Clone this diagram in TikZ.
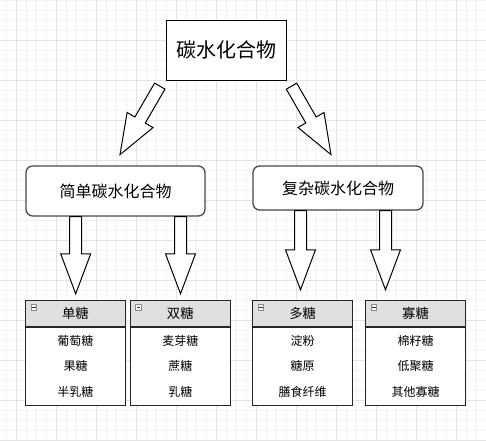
\documentclass[tikz,border=0pt]{standalone}
\usepackage{fontspec}
\setmainfont{Noto Sans CJK SC}
\usetikzlibrary{positioning, calc}

\definecolor{gridminor}{HTML}{F3F3F3}
\definecolor{gridmajor}{HTML}{E3E3E3}
\definecolor{headgray}{HTML}{E0E0E0}

\tikzset{
  carbbox/.style={draw, line width=0.75pt, fill=white, minimum width=90pt, minimum height=45pt, font=\fontsize{15}{18}\selectfont},
  kindbox/.style={draw=black!72, line width=1pt, rounded corners=5pt, fill=white, font=\fontsize{12}{14}\selectfont},
  sugarhead/.style={draw=black!85, line width=0.75pt, fill=headgray, minimum width=75pt, minimum height=19.5pt, inner sep=0pt, font=\fontsize{10}{12}\selectfont},
  sugarbody/.style={draw=black!85, line width=0.75pt, fill=white, minimum width=75pt, minimum height=58.5pt, inner sep=0pt},
  sugaritem/.style={inner sep=0pt, font=\fontsize{9}{11}\selectfont},
  minusbox/.style={draw=black!45, fill=white, line width=0.4pt, minimum size=4.2pt, inner sep=0pt},
  fatarrow/.style={draw, line width=0.75pt, fill=white, line join=miter},
}

\begin{document}
\begin{tikzpicture}[x=0.75pt, y=-0.75pt]
  \useasboundingbox (0,0) rectangle (486,441);
  \fill[white] (0,0) rectangle (486,441);

  % grid
  \foreach \gx in {6,16,...,486} \draw[gridminor, line width=0.4pt] (\gx,0) -- (\gx,441);
  \foreach \gy in {0,10,...,440} \draw[gridminor, line width=0.4pt] (0,\gy) -- (486,\gy);
  \foreach \gx in {16,56,...,486} \draw[gridmajor, line width=0.5pt] (\gx,0) -- (\gx,441);
  \foreach \gy in {40,80,...,440} \draw[gridmajor, line width=0.5pt] (0,\gy) -- (486,\gy);

  % top
  \node[carbbox] (carb) at (226,50.3) {碳水化合物};

  % two kinds
  \node[kindbox, minimum width=134.25pt, minimum height=37.5pt] (simple) at (115.5,191) {简单碳水化合物};
  \node[kindbox, minimum width=127.5pt, minimum height=33pt] (complex) at (338,188) {复杂碳水化合物};

  % sugar tables
  \foreach \n/\x/\title/\a/\b/\c in {t1/75.5/单糖/葡萄糖/果糖/半乳糖,
      t2/180.3/双糖/麦芽糖/蔗糖/乳糖,
      t3/302.7/多糖/淀粉/糖原/膳食纤维,
      t4/415.5/寡糖/棉籽糖/低聚糖/其他寡糖} {
    \node[sugarhead] (\n) at (\x,313.3) {\title};
    \node[sugarbody, below=0pt of \n] (\n-body) {};
    \node[minusbox] (\n-minus) at ($(\n.north west)+(8.7,7.2)$) {};
    \draw[black!80, line width=0.5pt] ($(\n-minus.west)+(1.2,0)$) -- ($(\n-minus.east)+(-1.2,0)$);
    \node[sugaritem] (\n-1) at ($(\n-body.north)+(0,13.7)$) {\a};
    \node[sugaritem] (\n-2) at ($(\n-body.north)+(0,39.2)$) {\b};
    \node[sugaritem] (\n-3) at ($(\n-body.north)+(0,64.7)$) {\c};
  }

  % arrow ends
  \coordinate (a1s) at ($(carb.south west)+(-5.7,5.3)$);
  \coordinate (a1e) at ($(simple.north)+(4.5,-10.7)$);
  \coordinate (a2s) at ($(carb.south east)+(5,5.4)$);
  \coordinate (a2e) at ($(complex.north)+(-7,-10.7)$);
  \coordinate (v1s) at ($(simple.south)+(-39.8,0)$);
  \coordinate (v1e) at ($(v1s |- t1.north)+(0,-6)$);
  \coordinate (v2s) at ($(simple.south)+(65,0)$);
  \coordinate (v2e) at ($(v2s |- t2.north)+(0,-6)$);
  \coordinate (v3s) at ($(complex.south)+(-37.5,0)$);
  \coordinate (v3e) at ($(v3s |- t3.north)+(0,-10)$);
  \coordinate (v4s) at ($(complex.south)+(47.5,0)$);
  \coordinate (v4e) at ($(v4s |- t4.north)+(0,-10)$);

  % block arrows
  \foreach \s/\e in {a1s/a1e, a2s/a2e, v1s/v1e, v2s/v2e, v3s/v3e, v4s/v4e} {
    \coordinate (hb) at ($(\e)!30pt!(\s)$);
    \draw[fatarrow] ($(\s)!4.5pt!90:(\e)$) -- ($(hb)!4.5pt!90:(\e)$)
      -- ($(hb)!11.25pt!90:(\e)$) -- (\e) -- ($(hb)!11.25pt!-90:(\e)$)
      -- ($(hb)!4.5pt!-90:(\e)$) -- ($(\s)!4.5pt!-90:(\e)$) -- cycle;
  }
\end{tikzpicture}
\end{document}
